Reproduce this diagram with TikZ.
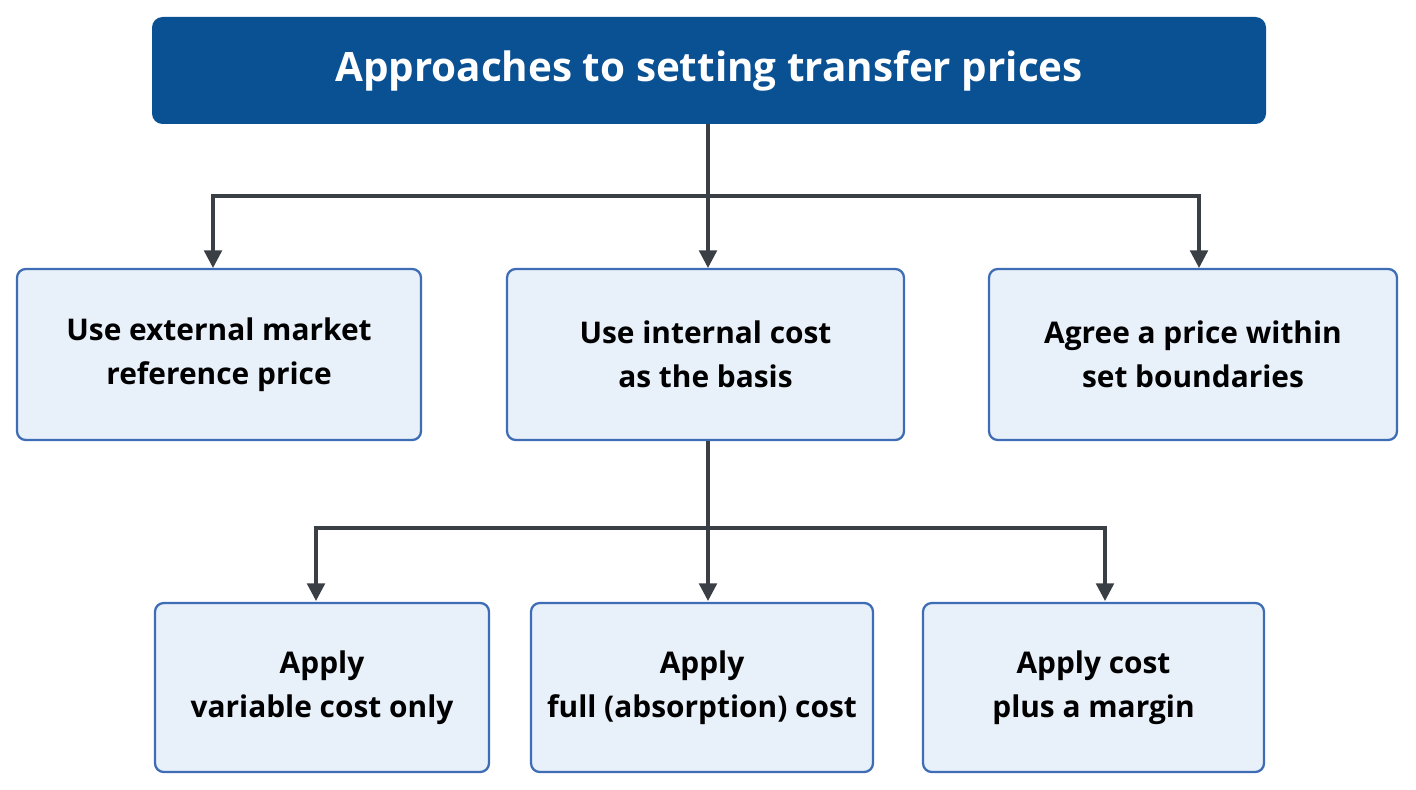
\documentclass[tikz,border=0pt]{standalone}
\usepackage{fontspec}
\setmainfont{Open Sans}
\usepackage{tikz}
\usetikzlibrary{arrows.meta}
\definecolor{titleblue}{HTML}{0A5194}
\definecolor{boxfill}{HTML}{E8F0FA}
\definecolor{boxline}{HTML}{3E6DB5}
\definecolor{linkgray}{HTML}{3A3F46}
\tikzset{
  approach/.style={draw=boxline,line width=1.3pt,fill=boxfill,rounded corners=5pt,
    align=center,font=\fontsize{17}{25}\selectfont\bfseries,text=black},
  arrow/.style={draw=linkgray,line width=1.9pt,-{Triangle[length=10pt,width=10pt]}}
}
\begin{document}
\begin{tikzpicture}[x=0.02cm,y=-0.02cm]
	\useasboundingbox (0,0) rectangle (1416,790);
	% Title:
	\node[fill=titleblue,rounded corners=6pt,minimum width=1114*0.02cm,minimum height=107*0.02cm,
	  text=white,font=\fontsize{23}{26}\selectfont\bfseries] (title) at (709,70.5) {Approaches to setting transfer prices};
	
	% First level:
	\node[approach,minimum width=404*0.02cm,minimum height=171*0.02cm] (market) at (219,354.5) {Use external market\\reference price};
	\node[approach,minimum width=397*0.02cm,minimum height=171*0.02cm] (cost) at (705.5,354.5) {Use internal cost\\as the basis};
	\node[approach,minimum width=408*0.02cm,minimum height=171*0.02cm] (agree) at (1193,354.5) {Agree a price within\\set boundaries};
	
	% Second level:
	\node[approach,minimum width=334*0.02cm,minimum height=169*0.02cm] (variable) at (322,687.5) {Apply\\variable cost only};
	\node[approach,minimum width=342*0.02cm,minimum height=169*0.02cm] (full) at (702,687.5) {Apply\\full (absorption) cost};
	\node[approach,minimum width=341*0.02cm,minimum height=169*0.02cm] (plus) at (1093.5,687.5) {Apply cost\\plus a margin};
	
	% Connectors:
	\coordinate (split1) at (708,196);
	\coordinate (split2) at (708,528);
	\draw[linkgray,line width=1.9pt] (title.south -| split1) -- (split1);
	\draw[arrow] (split1) -- (213,196) -- (213,268);
	\draw[arrow] (split1) -- (708,268);
	\draw[arrow] (split1) -- (1199,196) -- (1199,268);
	\draw[linkgray,line width=1.9pt] (cost.south -| split2) -- (split2);
	\draw[arrow] (split2) -- (316,528) -- (316,601);
	\draw[arrow] (split2) -- (708,601);
	\draw[arrow] (split2) -- (1105,528) -- (1105,601);
\end{tikzpicture}
\end{document}
